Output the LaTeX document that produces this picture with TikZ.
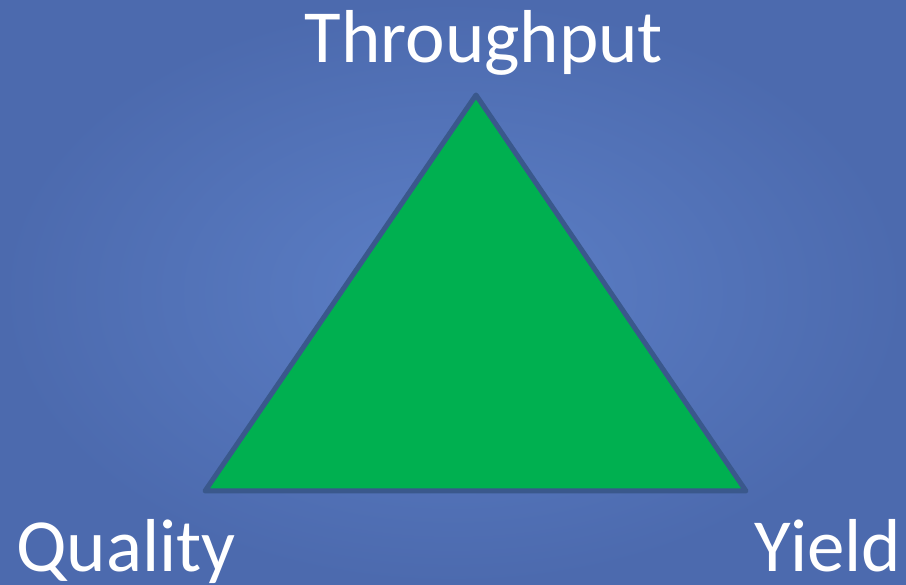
\documentclass[tikz,border=0pt]{standalone}
\usepackage{fontspec}
\setmainfont{Carlito}
\definecolor{bginner}{RGB}{92,127,198}
\definecolor{bgouter}{RGB}{76,106,174}
\definecolor{trifill}{RGB}{0,176,80}
\definecolor{triline}{RGB}{58,88,140}
\tikzset{
  label/.style={text=white, font=\fontsize{75}{90}\selectfont, inner sep=0pt, anchor=base},
  tri/.style={fill=trifill, draw=triline, line width=5pt, line join=round}
}
\begin{document}
\begin{tikzpicture}[x=1pt,y=-1pt]
\useasboundingbox (0,0) rectangle (906,585);
\shade[inner color=bginner, outer color=bgouter] (0,0) rectangle (906,585);
\coordinate (top) at (476,95);
\coordinate (bl) at (205,491);
\coordinate (br) at (746,491);
\draw[tri] (top) -- (br) -- (bl) -- cycle;
\node[label] (thr) at (484,63) {Throughput};
\node[label] (qual) at (126,572) {Quality};
\node[label] (yld) at (828,572) {Yield};
\end{tikzpicture}
\end{document}
